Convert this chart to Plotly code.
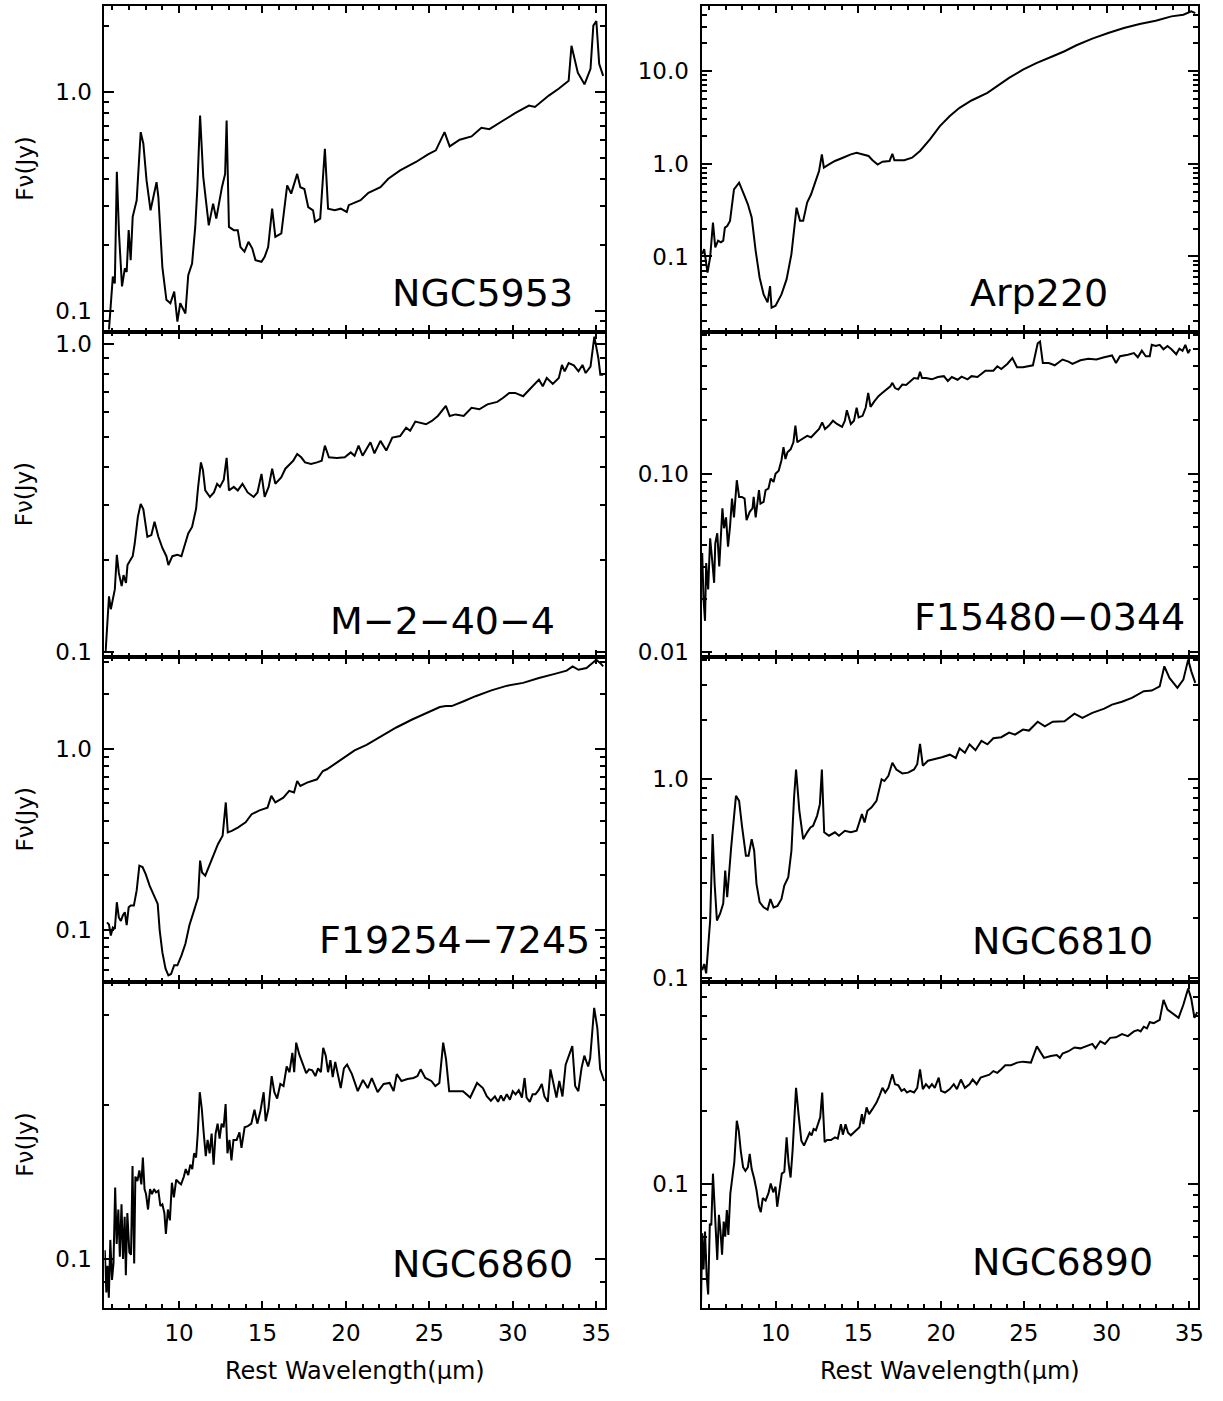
import plotly.graph_objects as go

# ---------------- data (rest wavelength in micron, flux density in Jy) ----------------
ngc5953_wl = [5.8, 6.03, 6.15, 6.27, 6.4, 6.58, 6.75, 6.86, 6.98, 7.1, 7.22, 7.46, 7.7, 7.86, 8.05, 8.29, 8.65, 8.76,
              9.0, 9.24, 9.48, 9.71, 9.9, 10.07, 10.38, 10.55, 10.78, 10.97, 11.09, 11.26, 11.45, 11.78, 12.04, 12.23,
              12.57, 12.76, 12.85, 12.99, 13.28, 13.52, 13.68, 13.92, 14.16, 14.39, 14.58, 14.94, 15.13, 15.34, 15.58,
              15.77, 16.13, 16.48, 16.72, 17.08, 17.27, 17.51, 17.74, 18.03, 18.15, 18.46, 18.74, 18.93, 19.33, 19.69,
              20.05, 20.17, 20.88, 21.35, 22.07, 22.54, 23.25, 24.2, 24.92, 25.39, 25.91, 26.22, 26.82, 27.53, 28.12,
              28.6, 29.43, 30.14, 30.97, 31.33, 32.16, 32.75, 33.35, 33.52, 33.9, 34.3, 34.66, 34.83, 35.01, 35.18, 35.42]
ngc5953_fnu = [0.082, 0.143, 0.133, 0.43, 0.225, 0.129, 0.156, 0.150, 0.233, 0.170, 0.268, 0.319, 0.653, 0.578, 0.394,
               0.287, 0.386, 0.33, 0.158, 0.112, 0.108, 0.122, 0.089, 0.108, 0.097, 0.145, 0.164, 0.241, 0.355, 0.778,
               0.408, 0.245, 0.308, 0.263, 0.366, 0.421, 0.738, 0.241, 0.233, 0.233, 0.195, 0.186, 0.206, 0.192, 0.170,
               0.167, 0.176, 0.195, 0.292, 0.217, 0.225, 0.373, 0.342, 0.421, 0.366, 0.359, 0.297, 0.287, 0.254, 0.263,
               0.548, 0.292, 0.287, 0.292, 0.282, 0.303, 0.319, 0.345, 0.366, 0.40, 0.437, 0.477, 0.517, 0.539, 0.653,
               0.562, 0.603, 0.624, 0.684, 0.674, 0.738, 0.797, 0.863, 0.851, 0.959, 1.03, 1.12, 1.62, 1.22, 1.08, 1.27,
               2.0, 2.1, 1.34, 1.18]

arp220_wl = [5.57, 5.69, 5.89, 6.05, 6.22, 6.36, 6.53, 6.7, 6.84, 6.94, 7.08, 7.25, 7.49, 7.8, 8.09, 8.33, 8.56, 8.8,
             9.04, 9.28, 9.52, 9.67, 9.76, 10.0, 10.36, 10.67, 10.96, 11.08, 11.27, 11.48, 11.67, 11.91, 12.15, 12.39,
             12.63, 12.8, 12.92, 13.23, 13.59, 14.07, 14.55, 14.9, 15.26, 15.62, 15.86, 16.17, 16.46, 16.89, 17.06,
             17.18, 17.78, 18.25, 18.73, 19.33, 19.93, 20.53, 21.12, 21.84, 22.8, 23.4, 24.11, 24.95, 25.79, 26.75,
             27.46, 28.18, 29.14, 30.1, 31.05, 32.0, 32.97, 33.92, 34.64, 35.12, 35.36]
arp220_fnu = [0.106, 0.12, 0.067, 0.098, 0.232, 0.125, 0.148, 0.142, 0.148, 0.205, 0.213, 0.242, 0.53, 0.625, 0.468,
              0.365, 0.263, 0.115, 0.059, 0.039, 0.032, 0.048, 0.028, 0.0295, 0.039, 0.057, 0.106, 0.174, 0.336, 0.242,
              0.242, 0.381, 0.468, 0.625, 0.834, 1.26, 0.906, 0.983, 1.07, 1.16, 1.26, 1.31, 1.26, 1.21, 1.09, 0.98,
              1.05, 1.07, 1.28, 1.09, 1.09, 1.16, 1.37, 1.83, 2.54, 3.26, 4.0, 4.8, 5.8, 6.84, 8.4, 10.3, 12.2, 14.4,
              16.3, 18.9, 22.3, 25.6, 29.0, 32.0, 34.8, 38.7, 40.4, 43.8, 42.0]

m2404_wl = [5.6, 5.68, 5.8, 5.91, 6.15, 6.27, 6.39, 6.56, 6.67, 6.82, 6.91, 7.1, 7.22, 7.34, 7.53, 7.7, 7.86, 8.1, 8.34,
            8.53, 8.76, 9.0, 9.24, 9.36, 9.6, 9.9, 10.14, 10.31, 10.55, 10.78, 11.02, 11.14, 11.31, 11.43, 11.57, 11.85,
            12.09, 12.28, 12.45, 12.68, 12.85, 12.99, 13.28, 13.52, 13.8, 14.11, 14.47, 14.7, 14.94, 15.13, 15.37,
            15.58, 15.77, 16.13, 16.37, 16.65, 16.84, 17.08, 17.32, 17.55, 17.91, 18.27, 18.55, 18.74, 18.98, 19.45,
            19.93, 20.29, 20.52, 20.76, 21.0, 21.47, 21.71, 22.07, 22.42, 22.78, 23.25, 23.61, 23.85, 24.16, 24.44,
            24.8, 25.15, 25.51, 25.99, 26.22, 26.58, 27.06, 27.53, 28.0, 28.48, 29.07, 29.43, 29.79, 30.14, 30.62,
            31.09, 31.57, 31.8, 32.04, 32.4, 32.76, 32.95, 33.11, 33.35, 33.66, 33.94, 34.18, 34.37, 34.66, 34.89,
            35.13, 35.25, 35.42]
m2404_fnu = [0.101, 0.122, 0.152, 0.138, 0.16, 0.207, 0.181, 0.164, 0.178, 0.168, 0.192, 0.2, 0.205, 0.225, 0.275,
             0.303, 0.291, 0.237, 0.24, 0.265, 0.237, 0.218, 0.205, 0.192, 0.205, 0.207, 0.205, 0.22, 0.243, 0.255,
             0.292, 0.343, 0.413, 0.39, 0.335, 0.319, 0.33, 0.352, 0.344, 0.363, 0.427, 0.335, 0.344, 0.335, 0.352,
             0.33, 0.319, 0.33, 0.379, 0.319, 0.344, 0.394, 0.352, 0.37, 0.394, 0.408, 0.418, 0.44, 0.429, 0.413,
             0.408, 0.413, 0.418, 0.468, 0.429, 0.427, 0.429, 0.445, 0.434, 0.468, 0.434, 0.48, 0.442, 0.485, 0.451,
             0.497, 0.503, 0.535, 0.523, 0.56, 0.556, 0.549, 0.563, 0.584, 0.63, 0.584, 0.591, 0.584, 0.621, 0.614,
             0.637, 0.649, 0.669, 0.694, 0.694, 0.677, 0.72, 0.766, 0.729, 0.776, 0.742, 0.776, 0.855, 0.815, 0.867,
             0.852, 0.815, 0.855, 0.805, 0.845, 1.056, 0.9, 0.795, 0.795]

f15480_wl = [5.57, 5.65, 5.74, 5.81, 5.93, 6.05, 6.17, 6.29, 6.36, 6.48, 6.6, 6.7, 6.79, 6.89, 7.01, 7.13, 7.25, 7.37,
             7.49, 7.66, 7.8, 7.97, 8.13, 8.25, 8.44, 8.61, 8.68, 8.8, 8.92, 9.0, 9.09, 9.28, 9.4, 9.57, 9.71, 9.88,
             10.0, 10.19, 10.36, 10.48, 10.6, 10.72, 10.91, 11.08, 11.2, 11.32, 11.44, 11.67, 11.91, 12.15, 12.39,
             12.63, 12.82, 12.99, 13.23, 13.47, 13.71, 14.02, 14.19, 14.31, 14.55, 14.74, 14.9, 15.02, 15.26, 15.45,
             15.6, 15.74, 15.98, 16.22, 16.46, 16.7, 16.94, 17.06, 17.22, 17.42, 17.66, 17.89, 18.13, 18.37, 18.61,
             18.73, 18.85, 19.09, 19.45, 19.81, 20.17, 20.41, 20.65, 21.0, 21.24, 21.6, 21.84, 22.2, 22.68, 23.16,
             23.4, 23.64, 24.0, 24.31, 24.59, 24.95, 25.55, 25.84, 25.98, 26.15, 26.51, 26.87, 27.34, 27.7, 27.94,
             28.42, 28.9, 29.38, 29.86, 30.33, 30.57, 30.81, 31.29, 31.65, 31.89, 32.13, 32.37, 32.61, 32.73, 32.97,
             33.21, 33.44, 33.68, 33.92, 34.21, 34.4, 34.59, 34.76, 34.93, 35.05]
f15480_fnu = [0.036, 0.0198, 0.015, 0.0316, 0.0225, 0.0435, 0.033, 0.0245, 0.0408, 0.0464, 0.0303, 0.0464, 0.064,
              0.0495, 0.057, 0.039, 0.0505, 0.0726, 0.057, 0.092, 0.0742, 0.0742, 0.0726, 0.055, 0.0612, 0.064, 0.0742,
              0.057, 0.071, 0.081, 0.068, 0.0696, 0.081, 0.0825, 0.094, 0.09, 0.1, 0.104, 0.119, 0.141, 0.121, 0.132,
              0.137, 0.15, 0.186, 0.15, 0.153, 0.157, 0.163, 0.16, 0.17, 0.178, 0.194, 0.178, 0.186, 0.198, 0.19,
              0.183, 0.198, 0.227, 0.19, 0.198, 0.234, 0.207, 0.211, 0.235, 0.284, 0.237, 0.255, 0.272, 0.284, 0.296,
              0.309, 0.323, 0.302, 0.296, 0.316, 0.314, 0.33, 0.344, 0.341, 0.372, 0.344, 0.344, 0.338, 0.348, 0.352,
              0.331, 0.348, 0.336, 0.35, 0.338, 0.352, 0.348, 0.378, 0.378, 0.4, 0.386, 0.412, 0.445, 0.395, 0.395,
              0.405, 0.538, 0.55, 0.417, 0.417, 0.405, 0.436, 0.425, 0.412, 0.432, 0.441, 0.436, 0.449, 0.46, 0.417,
              0.455, 0.464, 0.474, 0.449, 0.489, 0.455, 0.455, 0.527, 0.519, 0.527, 0.498, 0.519, 0.498, 0.467, 0.502,
              0.488, 0.527, 0.474, 0.498]

f19254_wl = [5.68, 5.8, 5.91, 6.03, 6.15, 6.27, 6.39, 6.51, 6.63, 6.75, 6.86, 6.98, 7.1, 7.29, 7.46, 7.62, 7.81, 8.0,
             8.24, 8.53, 8.72, 8.84, 9.0, 9.19, 9.36, 9.52, 9.71, 9.9, 10.14, 10.38, 10.62, 10.9, 11.14, 11.26, 11.38,
             11.57, 11.81, 12.09, 12.33, 12.61, 12.8, 12.92, 13.16, 13.52, 13.99, 14.35, 14.82, 15.3, 15.53, 15.77,
             16.25, 16.6, 16.89, 17.08, 17.27, 17.67, 18.27, 18.62, 18.86, 19.45, 19.93, 20.52, 21.24, 22.07, 23.02,
             23.97, 24.92, 25.63, 25.99, 26.34, 27.06, 27.77, 28.72, 29.67, 30.62, 31.57, 32.52, 33.23, 33.59, 33.94,
             34.42, 34.77, 35.01, 35.25, 35.42]
f19254_fnu = [0.110, 0.107, 0.093, 0.103, 0.101, 0.142, 0.117, 0.112, 0.12, 0.125, 0.106, 0.133, 0.136, 0.136, 0.165,
              0.226, 0.222, 0.203, 0.175, 0.151, 0.139, 0.099, 0.075, 0.061, 0.056, 0.057, 0.0637, 0.0637, 0.072,
              0.0837, 0.106, 0.128, 0.151, 0.241, 0.207, 0.199, 0.226, 0.268, 0.297, 0.331, 0.505, 0.345, 0.352,
              0.367, 0.392, 0.435, 0.457, 0.473, 0.549, 0.505, 0.537, 0.585, 0.573, 0.664, 0.623, 0.65, 0.678, 0.753,
              0.77, 0.838, 0.9, 0.979, 1.05, 1.16, 1.31, 1.45, 1.58, 1.7, 1.72, 1.72, 1.83, 1.95, 2.1, 2.23, 2.31,
              2.46, 2.59, 2.7, 2.85, 2.73, 2.79, 2.97, 3.1, 2.97, 2.85]

ngc6810_wl = [5.57, 5.69, 5.81, 5.93, 6.05, 6.2, 6.32, 6.46, 6.65, 6.84, 6.96, 7.08, 7.2, 7.32, 7.61, 7.8, 7.97, 8.21,
              8.37, 8.56, 8.71, 8.85, 9.04, 9.28, 9.52, 9.69, 9.88, 10.12, 10.36, 10.53, 10.77, 10.96, 11.12, 11.24,
              11.44, 11.67, 11.91, 12.11, 12.27, 12.51, 12.68, 12.8, 12.94, 13.23, 13.59, 13.83, 14.19, 14.55, 14.9,
              15.22, 15.38, 15.55, 15.79, 16.1, 16.41, 16.58, 16.82, 17.06, 17.3, 17.66, 18.01, 18.37, 18.56, 18.73,
              18.9, 19.21, 19.69, 20.05, 20.53, 20.89, 21.12, 21.44, 21.72, 22.08, 22.44, 22.8, 23.16, 23.64, 24.11,
              24.47, 24.95, 25.31, 25.84, 26.27, 26.75, 27.46, 28.06, 28.54, 29.14, 29.86, 30.33, 30.93, 31.53, 32.25,
              32.73, 33.21, 33.49, 33.8, 34.28, 34.64, 34.93, 35.12, 35.36]
ngc6810_fnu = [0.109, 0.117, 0.105, 0.148, 0.194, 0.53, 0.297, 0.194, 0.21, 0.236, 0.346, 0.254, 0.36, 0.454, 0.825,
               0.778, 0.583, 0.412, 0.412, 0.499, 0.436, 0.297, 0.24, 0.226, 0.22, 0.249, 0.226, 0.23, 0.249, 0.291,
               0.321, 0.436, 0.809, 1.12, 0.693, 0.499, 0.54, 0.571, 0.583, 0.654, 0.749, 1.12, 0.54, 0.519, 0.54,
               0.519, 0.55, 0.54, 0.55, 0.667, 0.606, 0.693, 0.72, 0.778, 1.0, 0.98, 1.04, 1.21, 1.12, 1.07, 1.08,
               1.12, 1.19, 1.51, 1.17, 1.24, 1.27, 1.29, 1.33, 1.28, 1.43, 1.36, 1.5, 1.4, 1.56, 1.5, 1.61, 1.63,
               1.72, 1.68, 1.78, 1.76, 1.95, 1.85, 1.95, 1.96, 2.14, 2.04, 2.16, 2.27, 2.38, 2.46, 2.57, 2.78, 2.8,
               2.94, 3.71, 3.24, 2.89, 3.18, 4.01, 3.5, 3.06]

ngc6860_wl = [5.55, 5.64, 5.71, 5.79, 5.88, 5.98, 6.07, 6.17, 6.26, 6.36, 6.45, 6.55, 6.64, 6.74, 6.81, 6.9, 7.02,
              7.12, 7.21, 7.31, 7.38, 7.5, 7.62, 7.74, 7.83, 7.93, 8.02, 8.14, 8.26, 8.38, 8.5, 8.62, 8.76, 8.88, 9.0,
              9.12, 9.21, 9.33, 9.45, 9.57, 9.69, 9.83, 10.0, 10.12, 10.29, 10.4, 10.55, 10.67, 10.79, 10.9, 11.02,
              11.12, 11.24, 11.36, 11.48, 11.6, 11.71, 11.83, 11.95, 12.07, 12.19, 12.31, 12.43, 12.55, 12.67, 12.79,
              12.9, 13.02, 13.14, 13.26, 13.45, 13.62, 13.74, 13.93, 14.12, 14.33, 14.52, 14.69, 14.88, 15.07, 15.19,
              15.36, 15.55, 15.71, 15.88, 16.07, 16.26, 16.45, 16.62, 16.79, 16.9, 17.02, 17.21, 17.4, 17.62, 17.79,
              17.98, 18.17, 18.33, 18.5, 18.64, 18.79, 18.93, 19.07, 19.21, 19.36, 19.52, 19.69, 19.88, 20.07, 20.36,
              20.71, 21.02, 21.31, 21.55, 21.9, 22.26, 22.62, 22.86, 23.05, 23.33, 23.69, 24.05, 24.29, 24.48, 24.76,
              25.12, 25.36, 25.6, 25.83, 26.0, 26.19, 26.55, 27.02, 27.45, 27.86, 28.21, 28.45, 28.69, 28.93, 29.12,
              29.29, 29.45, 29.64, 29.83, 30.0, 30.17, 30.36, 30.55, 30.71, 30.83, 31.02, 31.19, 31.36, 31.55, 31.74,
              31.9, 32.1, 32.26, 32.45, 32.62, 32.79, 32.98, 33.17, 33.33, 33.57, 33.74, 33.93, 34.12, 34.29, 34.52,
              34.64, 34.88, 35.07, 35.24, 35.48]
ngc6860_fnu = [0.104, 0.086, 0.097, 0.084, 0.109, 0.091, 0.098, 0.138, 0.107, 0.125, 0.101, 0.128, 0.1, 0.121, 0.093,
               0.123, 0.103, 0.102, 0.152, 0.098, 0.145, 0.142, 0.149, 0.14, 0.158, 0.137, 0.134, 0.125, 0.137, 0.134,
               0.137, 0.135, 0.136, 0.127, 0.128, 0.123, 0.112, 0.125, 0.119, 0.141, 0.132, 0.143, 0.141, 0.14,
               0.145, 0.15, 0.146, 0.153, 0.15, 0.161, 0.158, 0.176, 0.212, 0.197, 0.176, 0.159, 0.171, 0.161, 0.176,
               0.153, 0.176, 0.184, 0.172, 0.184, 0.181, 0.201, 0.161, 0.171, 0.156, 0.171, 0.171, 0.177, 0.165,
               0.181, 0.182, 0.184, 0.196, 0.184, 0.195, 0.212, 0.186, 0.197, 0.228, 0.212, 0.206, 0.22, 0.218, 0.238,
               0.232, 0.253, 0.232, 0.265, 0.251, 0.242, 0.231, 0.235, 0.234, 0.228, 0.236, 0.232, 0.259, 0.25, 0.232,
               0.245, 0.227, 0.243, 0.229, 0.216, 0.236, 0.24, 0.23, 0.213, 0.224, 0.216, 0.226, 0.212, 0.22, 0.221,
               0.213, 0.23, 0.223, 0.225, 0.226, 0.228, 0.235, 0.226, 0.223, 0.218, 0.221, 0.265, 0.246, 0.213, 0.213,
               0.213, 0.207, 0.221, 0.216, 0.208, 0.204, 0.208, 0.203, 0.209, 0.204, 0.21, 0.205, 0.213, 0.21, 0.214,
               0.207, 0.226, 0.207, 0.203, 0.21, 0.21, 0.214, 0.22, 0.208, 0.203, 0.235, 0.22, 0.207, 0.223, 0.208,
               0.24, 0.248, 0.261, 0.218, 0.213, 0.236, 0.25, 0.238, 0.247, 0.31, 0.283, 0.235, 0.223]

ngc6890_wl = [5.5, 5.57, 5.65, 5.74, 5.84, 5.93, 6.03, 6.12, 6.22, 6.32, 6.41, 6.48, 6.58, 6.67, 6.77, 6.87, 6.96, 7.06,
              7.15, 7.27, 7.42, 7.51, 7.66, 7.78, 7.9, 8.04, 8.18, 8.33, 8.44, 8.56, 8.71, 8.85, 9.0, 9.11, 9.23, 9.4,
              9.57, 9.71, 9.86, 10.0, 10.1, 10.24, 10.38, 10.53, 10.67, 10.79, 10.91, 11.03, 11.12, 11.24, 11.39,
              11.56, 11.72, 11.91, 12.06, 12.18, 12.3, 12.44, 12.58, 12.7, 12.82, 12.97, 13.11, 13.35, 13.59, 13.76,
              13.95, 14.07, 14.23, 14.38, 14.55, 14.71, 14.9, 15.07, 15.22, 15.31, 15.5, 15.65, 15.86, 16.1, 16.27,
              16.46, 16.63, 16.82, 17.06, 17.22, 17.42, 17.61, 17.78, 17.94, 18.13, 18.37, 18.56, 18.73, 18.9, 19.09,
              19.28, 19.45, 19.62, 19.86, 20.0, 20.24, 20.53, 20.77, 20.96, 21.2, 21.44, 21.72, 21.91, 22.15, 22.39,
              22.68, 22.92, 23.16, 23.4, 23.64, 23.88, 24.23, 24.59, 24.95, 25.43, 25.79, 25.98, 26.22, 26.63, 26.99,
              27.18, 27.34, 27.7, 28.06, 28.42, 28.78, 29.14, 29.33, 29.62, 29.9, 30.22, 30.57, 30.93, 31.29, 31.65,
              31.89, 32.06, 32.25, 32.44, 32.61, 32.85, 33.21, 33.44, 33.68, 34.04, 34.35, 34.64, 34.93, 35.12, 35.31,
              35.48]
ngc6890_fnu = [0.032, 0.062, 0.0438, 0.063, 0.041, 0.0344, 0.068, 0.067, 0.11, 0.08, 0.063, 0.048, 0.074, 0.064,
               0.0505, 0.0694, 0.06, 0.0776, 0.061, 0.091, 0.11, 0.123, 0.183, 0.166, 0.137, 0.117, 0.113, 0.117,
               0.133, 0.115, 0.105, 0.094, 0.08, 0.076, 0.087, 0.085, 0.091, 0.1, 0.092, 0.097, 0.08, 0.094, 0.11,
               0.112, 0.156, 0.121, 0.106, 0.137, 0.189, 0.251, 0.195, 0.151, 0.144, 0.156, 0.163, 0.159, 0.169,
               0.167, 0.177, 0.189, 0.24, 0.149, 0.152, 0.152, 0.156, 0.154, 0.177, 0.16, 0.177, 0.163, 0.159, 0.163,
               0.167, 0.172, 0.195, 0.177, 0.208, 0.195, 0.205, 0.218, 0.232, 0.251, 0.24, 0.251, 0.286, 0.26, 0.257,
               0.244, 0.248, 0.24, 0.244, 0.24, 0.251, 0.3, 0.248, 0.26, 0.251, 0.26, 0.251, 0.277, 0.244, 0.24, 0.248,
               0.26, 0.248, 0.272, 0.251, 0.26, 0.272, 0.26, 0.277, 0.281, 0.285, 0.295, 0.29, 0.3, 0.312, 0.312,
               0.32, 0.323, 0.32, 0.374, 0.357, 0.335, 0.341, 0.344, 0.335, 0.349, 0.357, 0.37, 0.367, 0.374, 0.383,
               0.367, 0.393, 0.383, 0.406, 0.408, 0.421, 0.413, 0.432, 0.438, 0.432, 0.452, 0.445, 0.472, 0.468,
               0.483, 0.585, 0.533, 0.51, 0.492, 0.558, 0.653, 0.59, 0.492, 0.52]

names = ["NGC5953", "Arp220", "M\u22122\u221240\u22124", "F15480\u22120344",
         "F19254\u22127245", "NGC6810", "NGC6860", "NGC6890"]
wls = [ngc5953_wl, arp220_wl, m2404_wl, f15480_wl, f19254_wl, ngc6810_wl, ngc6860_wl, ngc6890_wl]
fnus = [ngc5953_fnu, arp220_fnu, m2404_fnu, f15480_fnu, f19254_fnu, ngc6810_fnu, ngc6860_fnu, ngc6890_fnu]

# y-axis labelled ticks per panel
ytick_vals = [[0.1, 1.0], [0.1, 1.0, 10.0], [0.1, 1.0], [0.01, 0.1], [0.1, 1.0], [0.1, 1.0], [0.1], [0.1]]
ytick_text = [["0.1", "1.0"], ["0.1", "1.0", "10.0"], ["0.1", "1.0"], ["0.01", "0.10"], ["0.1", "1.0"],
              ["0.1", "1.0"], ["0.1"], ["0.1"]]
xtick_vals = [10, 15, 20, 25, 30, 35]

# ---------------- layout geometry (styles / positions) ----------------
W, H = 1223, 1401
y_ranges = [(-1.096, 0.391), (-1.81, 1.70), (-1.016, 0.04), (-2.028, -0.204),
            (-1.288, 0.505), (-1.022, 0.615), (-1.095, -0.458), (-1.518, -0.158)]
x_range = [5.53, 35.53]
col_px = [(105, 608), (705, 1204)]
row_px = [(5, 333), (333, 661), (661, 988), (988, 1316)]
label_xc = [0.755, 0.679, 0.676, 0.70, 0.70, 0.727, 0.755, 0.727]
label_yc = [0.12, 0.12, 0.11, 0.125, 0.13, 0.125, 0.135, 0.14]

FONT = "DejaVu Sans"
minor_vals = [k * 10.0 ** e for e in range(-3, 3) for k in range(2, 10)]

fig = go.Figure()
layout = dict(width=W, height=H, margin=dict(l=0, r=0, t=0, b=0), autosize=False,
              paper_bgcolor="white", plot_bgcolor="white", showlegend=False,
              font=dict(family=FONT, size=22, color="black"))
annotations = []

for i in range(8):
    r, c = divmod(i, 2)
    ax = "" if i == 0 else str(i + 1)
    x0, x1 = col_px[c]
    yt, yb = row_px[r]
    xdom = [x0 / W, x1 / W]
    ydom = [1 - yb / H, 1 - yt / H]
    fig.add_trace(go.Scatter(x=wls[i], y=fnus[i], mode="lines",
                             line=dict(color="black", width=2),
                             xaxis="x" + ax, yaxis="y" + ax, hoverinfo="skip"))
    layout["xaxis" + ax] = dict(
        domain=xdom, anchor="y" + ax, range=x_range, tickmode="array", tickvals=xtick_vals,
        ticks="inside", ticklen=7, tickwidth=2, tickcolor="black",
        showline=True, linewidth=2, linecolor="black", mirror="ticks",
        showgrid=False, zeroline=False, showticklabels=(r == 3),
        tickfont=dict(size=23), ticklabelstandoff=4,
        minor=dict(ticks="inside", ticklen=4, tickwidth=2, tickcolor="black", dtick=1, tick0=0, showgrid=False))
    layout["yaxis" + ax] = dict(
        domain=ydom, anchor="x" + ax, type="log", range=list(y_ranges[i]),
        tickmode="array", tickvals=ytick_vals[i], ticktext=ytick_text[i],
        ticks="inside", ticklen=10, tickwidth=2, tickcolor="black",
        showline=True, linewidth=2, linecolor="black", mirror="ticks",
        showgrid=False, zeroline=False, tickfont=dict(size=23), ticklabelstandoff=6,
        minor=dict(ticks="inside", ticklen=5, tickwidth=2, tickcolor="black",
                   tickmode="array", tickvals=minor_vals, showgrid=False))
    annotations.append(dict(text=names[i], xref="x" + ax + " domain", yref="y" + ax + " domain",
                            x=label_xc[i], y=label_yc[i], xanchor="center", yanchor="middle",
                            showarrow=False, font=dict(size=38, family=FONT, color="black")))
    if c == 0:
        annotations.append(dict(text="F\u03bd(Jy)", xref="paper", yref="paper",
                                x=25 / W, y=1 - (yt + yb) / 2 / H, textangle=-90,
                                xanchor="center", yanchor="middle", showarrow=False,
                                font=dict(size=23, family=FONT, color="black")))
for c in range(2):
    x0, x1 = col_px[c]
    annotations.append(dict(text="Rest Wavelength(\u03bcm)", xref="paper", yref="paper",
                            x=(x0 + x1) / 2 / W, y=1 - 1380 / H, xanchor="center", yanchor="middle",
                            showarrow=False, font=dict(size=24, family=FONT, color="black")))

layout["annotations"] = annotations
fig.update_layout(**layout)
fig.write_html("out.html")
